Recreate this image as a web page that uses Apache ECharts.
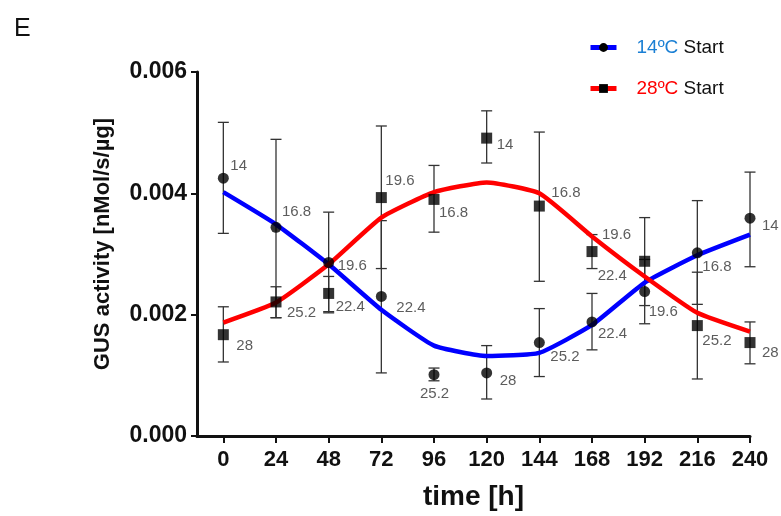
<!DOCTYPE html>
<html>
<head>
<meta charset="utf-8">
<script src="https://cdn.jsdelivr.net/npm/echarts@6/dist/echarts.min.js"></script>
<style>
  html, body { margin: 0; padding: 0; background: #fff; }
  #chart { width: 781px; height: 516px; }
</style>
</head>
<body>
<div id="chart"></div>
<script>
// time points [h]
var hours = [0, 24, 48, 72, 96, 120, 144, 168, 192, 216, 240];

// 14ºC start: measured means, error bar ends, fitted curve, point labels
var mean14 = [0.00425, 0.00344, 0.00286, 0.00230, 0.00101, 0.00104, 0.00154, 0.00188, 0.00238, 0.00302, 0.00359];
var low14  = [0.00334, 0.00195, 0.00203, 0.00104, 0.00091, 0.00061, 0.00098, 0.00142, 0.00185, 0.00217, 0.00279];
var high14 = [0.00517, 0.00489, 0.00369, 0.00355, 0.00112, 0.00149, 0.00210, 0.00235, 0.00291, 0.00388, 0.00435];
var fit14  = [0.00402, 0.00349, 0.00283, 0.00208, 0.00149, 0.00132, 0.00137, 0.00183, 0.00253, 0.00298, 0.00332];
var temps14 = ['14', '16.8', '19.6', '22.4', '25.2', '28', '25.2', '22.4', '19.6', '16.8', '14'];

// 28ºC start
var mean28 = [0.00167, 0.00221, 0.00235, 0.00393, 0.00390, 0.00491, 0.00379, 0.00304, 0.00288, 0.00182, 0.00154];
var low28  = [0.00122, 0.00195, 0.00205, 0.00276, 0.00336, 0.00450, 0.00255, 0.00276, 0.00215, 0.00094, 0.00119];
var high28 = [0.00213, 0.00246, 0.00263, 0.00511, 0.00446, 0.00536, 0.00501, 0.00332, 0.00360, 0.00270, 0.00188];
var fit28  = [0.00187, 0.00220, 0.00283, 0.00360, 0.00402, 0.00418, 0.00400, 0.00329, 0.00263, 0.00203, 0.00172];
var temps28 = ['28', '25.2', '22.4', '19.6', '16.8', '14', '16.8', '19.6', '22.4', '25.2', '28'];

// label offsets (px from marker centre), layout only
var labelOff14 = [[7,-12],[6,-15],[9,3],[15,11],[-14,19],[13,8],[11,14],[6,12],[4,20],[5,14],[12,8]];
var labelOff28 = [[13,11],[11,11],[7,13],[4,-17],[5,13],[10,7],[12,-13],[10,-17],[-47,15],[5,15],[12,10]];

var FONT = 'Liberation Sans, Arial, sans-serif';

function pts(means, temps, offs) {
  return hours.map(function (h, i) {
    return {
      value: [h, means[i]],
      label: { formatter: temps[i], offset: offs[i] }
    };
  });
}

function bars(lows, highs) {
  return hours.map(function (h, i) { return [h, lows[i], highs[i]]; });
}

function pair(values) {
  return hours.map(function (h, i) { return [h, values[i]]; });
}

function errorBar(params, api) {
  var top = api.coord([api.value(0), api.value(2)]);
  var bot = api.coord([api.value(0), api.value(1)]);
  var w = 5.5;
  var st = { stroke: '#333', lineWidth: 1.3 };
  return {
    type: 'group',
    children: [
      { type: 'line', shape: { x1: top[0], y1: top[1], x2: bot[0], y2: bot[1] }, style: st },
      { type: 'line', shape: { x1: top[0] - w, y1: top[1], x2: top[0] + w, y2: top[1] }, style: st },
      { type: 'line', shape: { x1: bot[0] - w, y1: bot[1], x2: bot[0] + w, y2: bot[1] }, style: st }
    ]
  };
}

var pointLabel = {
  show: true,
  position: 'inside',
  align: 'left',
  verticalAlign: 'middle',
  color: '#333',
  fontSize: 15,
  fontFamily: FONT
};

var chart = echarts.init(document.getElementById('chart'));
var option = {
  animation: false,
  title: {
    text: 'E', left: 9, top: 12,
    textStyle: { fontSize: 25, fontWeight: 'normal', color: '#111', fontFamily: FONT }
  },
  legend: {
    data: ['14ºC Start', '28ºC Start'],
    orient: 'vertical',
    left: 583, top: 33,
    itemWidth: 26, itemHeight: 11, itemGap: 22,
    lineStyle: { width: 5 },
    formatter: function (name) {
      return name === '14ºC Start' ? '{b|14ºC} Start' : '{r|28ºC} Start';
    },
    textStyle: {
      fontSize: 19, color: '#111', fontFamily: FONT, padding: [0, 0, 0, 15],
      rich: {
        b: { color: '#1a7fd4', fontSize: 19, fontFamily: FONT },
        r: { color: '#ff0000', fontSize: 19, fontFamily: FONT }
      }
    }
  },
  grid: { left: 197, right: 31, top: 72, bottom: 80 },
  xAxis: {
    type: 'value', min: -12, max: 240,
    name: 'time [h]', nameLocation: 'middle', nameGap: 47,
    nameTextStyle: { fontSize: 28, fontWeight: 'bold', color: '#111', fontFamily: FONT },
    splitLine: { show: false },
    axisLine: { lineStyle: { color: '#111', width: 3 } },
    axisTick: { customValues: hours, length: 7, lineStyle: { color: '#111', width: 2 } },
    axisLabel: {
      customValues: hours, margin: 13,
      fontSize: 22, fontWeight: 'bold', color: '#111', fontFamily: FONT
    }
  },
  yAxis: {
    type: 'value', min: 0, max: 0.006, interval: 0.002,
    name: 'GUS activity [nMol/s/µg]', nameLocation: 'middle', nameGap: 83,
    nameTextStyle: { fontSize: 22, fontWeight: 'bold', color: '#111', fontFamily: FONT, padding: [0, 0, 0, 20] },
    splitLine: { show: false },
    axisLine: { show: true, onZero: false, lineStyle: { color: '#111', width: 3 } },
    axisTick: { show: true, length: 6, lineStyle: { color: '#111', width: 2 } },
    axisLabel: {
      margin: 10, fontSize: 23, fontWeight: 'bold', color: '#111', fontFamily: FONT,
      formatter: function (v) { return v.toFixed(3); }
    }
  },
  series: [
    {
      name: 'err14', type: 'custom', renderItem: errorBar,
      data: bars(low14, high14), z: 1, silent: true
    },
    {
      name: 'err28', type: 'custom', renderItem: errorBar,
      data: bars(low28, high28), z: 1, silent: true
    },
    {
      name: '14ºC Start', type: 'line', data: pair(fit14),
      smooth: 0.15, showSymbol: false, symbol: 'circle', symbolSize: 10,
      itemStyle: { color: '#000' },
      lineStyle: { color: '#0000ff', width: 4.5 }, z: 2
    },
    {
      name: '28ºC Start', type: 'line', data: pair(fit28),
      smooth: 0.15, showSymbol: false, symbol: 'rect', symbolSize: 10,
      itemStyle: { color: '#000' },
      lineStyle: { color: '#ff0000', width: 4.5 }, z: 2
    },
    {
      name: 'points14', type: 'scatter', symbol: 'circle', symbolSize: 11,
      itemStyle: { color: '#000' }, label: pointLabel,
      data: pts(mean14, temps14, labelOff14), z: 3
    },
    {
      name: 'points28', type: 'scatter', symbol: 'rect', symbolSize: 11,
      itemStyle: { color: '#000' }, label: pointLabel,
      data: pts(mean28, temps28, labelOff28), z: 3
    }
  ]
};
chart.setOption(option);
</script>
</body>
</html>
